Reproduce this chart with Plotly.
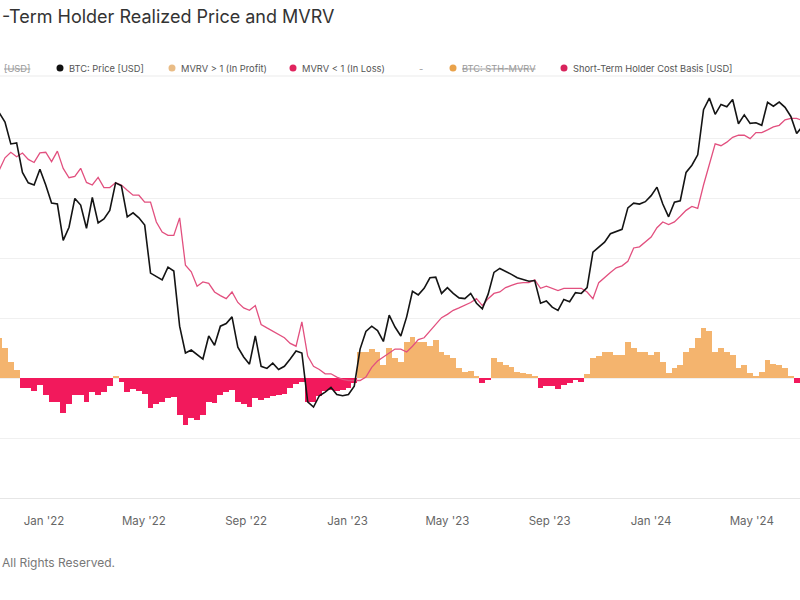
import pandas as pd
import plotly.graph_objects as go

# ---------------- data (weekly readings, values in thousand USD) ----------------
start_date = "2021-11-08"

btc_price_k = [
    67.0, 64.0, 57.5, 57.8, 50.0, 47.5, 47.0, 50.8,            # Nov-Dec 2021
    47.0, 43.0, 42.8, 35.8, 38.2,                              # Jan 2022
    44.0, 42.6, 38.0, 44.2,                                    # Feb
    39.0, 39.8, 41.5, 47.5,                                    # Mar
    46.8, 40.2, 41.0, 40.0,                                    # Apr
    38.6, 30.5, 30.0, 29.5, 31.4,                              # May
    30.8, 23.5, 20.6, 20.9,                                    # Jun
    20.4, 20.0, 22.4, 21.4,                                    # Jul
    23.5, 23.8, 24.6, 21.2, 20.2,                              # Aug
    19.5, 22.4, 19.3, 19.1,                                    # Sep
    19.6, 19.0, 19.3, 20.0, 20.8,                              # Oct
    20.6, 16.2, 15.8, 16.7,                                    # Nov
    17.0, 17.4, 16.8, 16.7,                                    # Dec
    16.8, 17.5, 21.0, 22.9, 23.5,                              # Jan 2023
    23.0, 21.8, 24.8, 23.4,                                    # Feb
    22.4, 24.6, 27.9, 27.4,                                    # Mar
    28.3, 29.8, 29.9, 27.6,                                    # Apr
    28.4, 27.6, 27.0, 26.9, 27.6,                              # May
    26.3, 25.6, 27.5, 30.6,                                    # Jun
    31.2, 30.8, 30.3, 29.8, 29.6,                              # Jul
    29.3, 29.4, 26.3, 26.6,                                    # Aug
    25.8, 25.4, 26.8, 26.5,                                    # Sep
    27.7, 27.6, 28.4, 33.8, 34.6,                              # Oct
    35.5, 37.0, 37.4, 37.8,                                    # Nov
    42.0, 43.0, 42.8, 43.3,                                    # Dec
    44.6, 46.5, 42.8, 40.2, 43.2,                              # Jan 2024
    43.5, 50.0, 51.8, 54.5,                                    # Feb
    68.0, 72.0, 66.5, 69.8,                                    # Mar
    69.0, 71.5, 63.5, 66.3, 63.6,                              # Apr
    63.8, 63.0, 70.5, 69.2,                                    # May
    70.6, 68.8, 65.8, 60.5,                                    # Jun
    62.7,                                                      # Jul
]

sth_cost_basis_k = [
    50.5, 53.7, 55.2, 54.0, 55.0, 53.3, 52.5, 55.0,
    55.2, 52.7, 55.5, 51.0, 48.7,
    49.0, 51.0, 47.6, 47.0,
    48.8, 46.4, 46.4, 47.5,
    47.0, 45.8, 44.7, 44.7,
    43.2, 43.2, 39.2, 37.3, 36.7,
    36.7, 40.0, 31.7, 30.7,
    28.6, 29.2, 29.0, 27.8,
    27.3, 26.9, 27.8, 26.4, 25.7,
    25.4, 26.0, 23.7, 23.3,
    22.9, 22.5, 22.2, 21.6, 21.3,
    24.0, 20.3, 19.3, 19.0,
    18.6, 18.6, 18.3, 18.1,
    18.0, 18.0, 18.0, 18.3, 19.2,
    19.8, 20.2, 20.6, 21.0,
    21.0, 20.7, 21.3, 22.0,
    22.2, 22.9, 23.7, 24.5,
    24.9, 25.4, 25.7, 26.0, 26.4,
    26.9, 26.0, 26.9, 27.6,
    27.8, 28.4, 28.7, 29.0, 29.1,
    29.1, 29.5, 28.3, 28.6,
    28.3, 28.0, 28.3, 28.3,
    28.4, 28.3, 27.8, 26.9, 29.1,
    29.9, 30.6, 31.3, 31.6,
    32.3, 34.5, 34.7, 35.6,
    36.4, 38.1, 39.2, 38.7, 39.2,
    40.3, 41.5, 42.3, 41.9,
    47.0, 51.9, 57.5, 57.0,
    58.0, 59.4, 60.0, 60.0, 59.0,
    60.8, 60.8, 61.6, 62.5,
    63.0, 64.7, 65.2, 65.2,
    64.5,
]

sth_mvrv = [
    1.33, 1.25, 1.13, 1.07, 0.92, 0.92, 0.89, 0.94,
    0.86, 0.80, 0.80, 0.71, 0.78,
    0.86, 0.86, 0.80, 0.88,
    0.86, 0.88, 0.93, 1.01,
    0.97, 0.88, 0.91, 0.89,
    0.87, 0.75, 0.78, 0.80, 0.83,
    0.84, 0.69, 0.61, 0.67,
    0.65, 0.69, 0.80, 0.79,
    0.86, 0.88, 0.90, 0.80, 0.78,
    0.76, 0.83, 0.82, 0.83,
    0.85, 0.86, 0.87, 0.92, 0.95,
    0.97, 0.80, 0.80, 0.85,
    0.89, 0.90, 0.89, 0.90,
    0.92, 0.96, 1.22, 1.22, 1.24,
    1.22, 1.11, 1.25, 1.17,
    1.13, 1.30, 1.34, 1.30,
    1.30, 1.27, 1.32, 1.22,
    1.19, 1.17, 1.08, 1.05, 1.06,
    1.01, 0.96, 0.99, 1.17,
    1.13, 1.11, 1.09, 1.05, 1.04,
    1.03, 1.02, 0.92, 0.93,
    0.93, 0.91, 0.94, 0.96,
    0.99, 0.97, 1.03, 1.17, 1.18,
    1.22, 1.22, 1.19, 1.19,
    1.30, 1.25, 1.22, 1.22,
    1.19, 1.22, 1.13, 1.04, 1.08,
    1.11, 1.22, 1.25, 1.33,
    1.42, 1.39, 1.22, 1.25,
    1.22, 1.19, 1.08, 1.11, 1.04,
    1.02, 1.05, 1.15, 1.12,
    1.11, 1.08, 1.02, 0.96,
    0.97,
]

tick_dates = ["2022-01-01", "2022-05-01", "2022-09-01", "2023-01-01",
              "2023-05-01", "2023-09-01", "2024-01-01", "2024-05-01"]
tick_labels = ["Jan '22", "May '22", "Sep '22", "Jan '23",
               "May '23", "Sep '23", "Jan '24", "May '24"]

title_text = "-Term Holder Realized Price and MVRV"
copyright_text = "All Rights Reserved."

# ---------------- styling ----------------
FONT = "Inter, 'Open Sans', sans-serif"
C_PRICE = "#141414"
C_STH = "#E2507F"
C_PROFIT = "#F4B46E"
C_LOSS = "#F2195C"

W, H = 800, 600
PLOT_TOP, PLOT_BOTTOM = 85, 498


def py(ypx):
    return (PLOT_BOTTOM - ypx) / (PLOT_BOTTOM - PLOT_TOP)


def px(xpx):
    return xpx / W


dates = pd.date_range(start_date, periods=len(btc_price_k), freq="7D")
price_usd = [v * 1000 for v in btc_price_k]
sth_usd = [v * 1000 for v in sth_cost_basis_k]
profit = [v - 1 if v >= 1 else None for v in sth_mvrv]
loss = [v - 1 if v < 1 else None for v in sth_mvrv]
week_ms = 7 * 86400000

fig = go.Figure()
fig.add_trace(go.Bar(x=dates, y=profit, base=1, width=week_ms,
                     marker=dict(color=C_PROFIT, line=dict(width=0)),
                     name="MVRV > 1 (In Profit)"))
fig.add_trace(go.Bar(x=dates, y=loss, base=1, width=week_ms,
                     marker=dict(color=C_LOSS, line=dict(width=0)),
                     name="MVRV < 1 (In Loss)"))
fig.add_trace(go.Scatter(x=dates, y=sth_usd, mode="lines", yaxis="y2",
                         line=dict(color=C_STH, width=1.3),
                         name="Short-Term Holder Cost Basis [USD]"))
fig.add_trace(go.Scatter(x=dates, y=price_usd, mode="lines", yaxis="y2",
                         line=dict(color=C_PRICE, width=1.6),
                         name="BTC: Price [USD]"))

annotations = []
shapes = []


def text(x, y, s, size=9.3, color="#555", anchor="left"):
    annotations.append(dict(x=px(x), y=py(y), xref="paper", yref="paper",
                            text=s, showarrow=False, xanchor=anchor,
                            yanchor="middle",
                            font=dict(family=FONT, size=size, color=color)))


def dot(x, y, color, r=3.5):
    shapes.append(dict(type="circle", xref="paper", yref="paper",
                       x0=px(x - r), x1=px(x + r), y0=py(y + r), y1=py(y - r),
                       fillcolor=color, line=dict(width=0)))


text(0, 16, title_text, size=18, color="#333")

LY = 68
text(2, LY, "<s>[USD]</s>", color="#999")
dot(60, LY, "#111")
text(67, LY, "BTC: Price [USD]")
dot(172, LY, "#E9BC86")
text(179, LY, "MVRV > 1 (In Profit)")
dot(293, LY, "#E0245E")
text(300, LY, "MVRV < 1 (In Loss)")
text(421, LY, "-", color="#999", anchor="center")
dot(453, LY, "#E9A24A")
text(460, LY, "<s>BTC: STH-MVRV</s>", color="#999")
dot(564, LY, "#D8245C")
text(571, LY, "Short-Term Holder Cost Basis [USD]")

shapes.append(dict(type="line", xref="paper", yref="paper", x0=0, x1=1,
                   y0=py(76), y1=py(76), line=dict(color="#ebebeb", width=1)))

text(0, 562, copyright_text, size=12, color="#777")

fig.update_layout(
    width=W, height=H,
    margin=dict(l=0, r=0, t=PLOT_TOP, b=H - PLOT_BOTTOM),
    paper_bgcolor="white", plot_bgcolor="white",
    showlegend=False, bargap=0, barmode="overlay",
    font=dict(family=FONT),
    xaxis=dict(type="date", range=["2021-11-09", "2024-06-28"],
               tickvals=tick_dates, ticktext=tick_labels,
               showgrid=False, zeroline=False, showline=True,
               linecolor="#e6e6e6", linewidth=1, ticks="",
               ticklabelstandoff=12,
               tickfont=dict(family=FONT, size=11.5, color="#666")),
    yaxis=dict(range=[0, (PLOT_BOTTOM - PLOT_TOP) / 120.0], tick0=0, dtick=0.5,
               showticklabels=False, showgrid=True, gridcolor="#f0f0f0",
               gridwidth=1, zeroline=False, fixedrange=True),
    yaxis2=dict(type="log", range=[4.0047, 4.8853], overlaying="y",
                side="right", showgrid=False, showticklabels=False,
                zeroline=False, fixedrange=True),
    annotations=annotations,
    shapes=shapes,
)

fig.write_html("out.html",
               config={"displayModeBar": False},
               post_script="document.body.style.margin='0';"
                           "document.body.style.overflow='hidden';")
